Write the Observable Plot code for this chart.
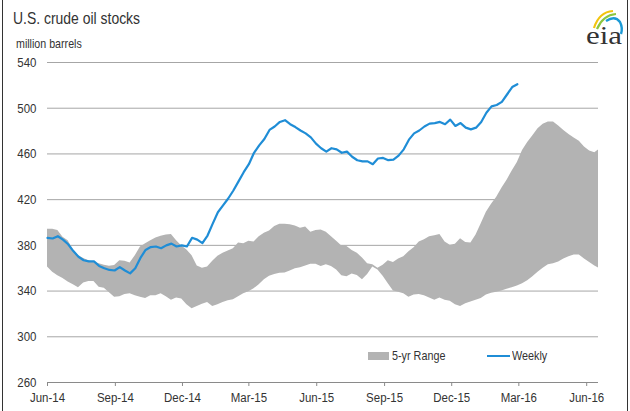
<!DOCTYPE html>
<html><head><meta charset="utf-8">
<script src="https://cdn.jsdelivr.net/npm/d3@7"></script>
<script src="https://cdn.jsdelivr.net/npm/@observablehq/plot@0.6"></script>
<style>
html,body{margin:0;padding:0;background:#fff;}
#wrap{position:relative;width:630px;height:411px;overflow:hidden;background:#fff;}
#chart{position:absolute;left:0;top:0;}
.narrow{font-family:'Liberation Sans',Arial,sans-serif;color:#333;transform-origin:0 50%;white-space:nowrap;}
#title{position:absolute;left:13px;top:9px;font-size:17px;transform:scaleX(0.82);}
#subtitle{position:absolute;left:16px;top:36px;font-size:13px;transform:scaleX(0.82);}
.lg-swatch{position:absolute;left:368px;top:352px;width:21px;height:8px;background:#b3b3b3;}
.lg-text1{position:absolute;left:392px;top:348px;font-size:13.5px;transform:scaleX(0.8);}
.lg-line{position:absolute;left:487px;top:355px;width:23px;height:2px;background:#1f8dd6;}
.lg-text2{position:absolute;left:512px;top:348px;font-size:13.5px;transform:scaleX(0.8);}
#border-l{position:absolute;left:2px;top:0;width:1px;height:411px;background:#333;}
#border-r{position:absolute;left:627px;top:0;width:1px;height:411px;background:#333;}
#logo{position:absolute;left:582px;top:4px;}
</style></head>
<body><div id="wrap">
<div id="chart"></div>
<div id="title" class="narrow">U.S. crude oil stocks</div>
<div id="subtitle" class="narrow">million barrels</div>
<div class="lg-swatch"></div><div class="lg-text1 narrow">5-yr Range</div>
<div class="lg-line"></div><div class="lg-text2 narrow">Weekly</div>
<svg id="logo" width="44" height="44" viewBox="0 0 44 44">
  <path d="M12 24 Q17 8 31 7" fill="none" stroke="#f2c40f" stroke-width="2.2"/>
  <path d="M15 25 Q21 11 34 10" fill="none" stroke="#8cc63f" stroke-width="2.2"/>
  <path d="M24 17 Q33 11 38 18 Q41 24 39 30" fill="none" stroke="#1b9ad6" stroke-width="2.4"/>
  <text x="4" y="40" font-family="'Liberation Serif','DejaVu Serif',serif" font-size="25" fill="#333" textLength="36" lengthAdjust="spacingAndGlyphs">eia</text>
</svg>
<div id="border-l"></div><div id="border-r"></div>
</div>
<script>
// Weekly U.S. crude oil stocks (million barrels), weekly from start date
const weeklyStart = "2014-06-01";
const weeklyValues = [
  386.6, 386, 388, 385, 381, 375, 370, 367, 366, 366,
  362, 360, 358.5, 358, 361, 358, 355.5, 360, 369, 376,
  378.5, 379, 377.5, 380, 381.5, 379, 380, 379, 386.6, 385,
  382, 388.6, 399, 409, 415, 421, 428, 436, 444, 451,
  461, 467.5, 473, 481, 484, 488, 489.5, 486, 483.5, 480.5,
  478, 474.5, 469, 465, 462, 465, 464, 461, 462, 457.5,
  454.5, 453.5, 453.5, 451, 456, 456.5, 454.5, 455, 458.5, 464,
  472.5, 478, 480.5, 484, 486.5, 487, 488, 486, 490, 484.5,
  487, 483, 481.5, 483, 488, 496, 501.6, 502.8, 505.5, 512,
  518.5, 521
];
// 5-year range (upper and lower bounds), weekly from same start date
const rangeHigh = [
  394, 394, 393, 387, 384, 376, 371, 368.5, 366.5, 365.3,
  364, 362.5, 361.7, 362.4, 366.5, 366, 364.5, 371, 378.5, 381.5,
  384, 386.5, 388, 389, 389.5, 384, 379.5, 376, 371, 362,
  360, 361, 366, 370.5, 373, 375, 377, 382, 381.5, 383.5,
  383, 387.5, 390.5, 392.5, 396.5, 398.5, 398.5, 398, 397, 395,
  396, 391.5, 393, 393.5, 391.5, 387.5, 383.5, 379.5, 379, 375.5,
  373, 369, 364, 363, 360, 362.5, 366.5, 365, 368, 370,
  374.5, 378, 383, 385, 387.5, 388.5, 389.5, 383, 380, 381,
  385.7, 382.5, 382, 389, 399, 409, 416, 422, 430, 437,
  445, 452.5, 463, 470, 476, 482, 486, 488, 488, 484.5,
  480.5, 477, 474, 471, 466, 462.5, 461, 464.5
];
const rangeLow = [
  361, 356.5, 353.5, 351, 348, 345.5, 343, 347, 348.4, 348.4,
  343.4, 342.5, 338.5, 334.5, 335, 337, 337.6, 336, 334.7, 333.5,
  336, 336, 337.6, 335, 332, 334, 333, 328, 324.6, 326.5,
  328.5, 330, 326.5, 328, 330, 331.5, 332.5, 335, 337.6, 339.5,
  342, 345.5, 350, 353, 354.5, 355.5, 355.8, 357.5, 359.5, 360.5,
  362, 363.5, 363.5, 361.5, 363, 361.5, 358.5, 353.5, 352.5, 355,
  353.6, 350, 354.5, 361, 358.5, 353, 346.5, 340, 339, 337.6,
  334.5, 336.5, 337, 336, 334, 332, 334, 332, 331, 328,
  326.5, 329, 330.5, 332, 333.5, 336.5, 338, 339, 340, 341.5,
  343, 344.5, 346.5, 349, 352.5, 356.5, 360, 363, 364, 365.5,
  368, 370, 371.5, 371.5, 368, 365, 362, 359.5
];
const yTicks = [260, 300, 340, 380, 420, 460, 500, 540];
const xTickDates = ["2014-06-01","2014-09-01","2014-12-01","2015-03-01","2015-06-01","2015-09-01","2015-12-01","2016-03-01","2016-06-01"];
const xTickLabels = ["Jun-14","Sep-14","Dec-14","Mar-15","Jun-15","Sep-15","Dec-15","Mar-16","Jun-16"];
const xDomain = ["2014-06-01", "2016-06-17"];

const DAY = 86400000;
const t0 = new Date(weeklyStart + "T00:00:00Z").getTime();
const weekDate = i => new Date(t0 + i * 7 * DAY);
const weekly = weeklyValues.map((v, i) => ({date: weekDate(i), value: v}));
const band = rangeHigh.map((h, i) => ({date: weekDate(i), hi: h, lo: rangeLow[i]}));
const tickDates = xTickDates.map(d => new Date(d + "T00:00:00Z"));
const labelByTime = new Map(tickDates.map((d, i) => [d.getTime(), xTickLabels[i]]));

const font = "'Liberation Sans',Arial,sans-serif";

const chart = Plot.plot({
  width: 630,
  height: 411,
  marginLeft: 47,
  marginRight: 32,
  marginTop: 62,
  marginBottom: 29,
  style: {fontFamily: font, fontSize: "13.5px", color: "#333", background: "transparent", overflow: "visible"},
  x: {type: "utc", domain: xDomain.map(d => new Date(d + "T00:00:00Z"))},
  y: {domain: [260, 540]},
  marks: [
    Plot.gridY(yTicks.filter(d => d !== 260), {stroke: "#a6a6a6", strokeOpacity: 1, strokeWidth: 1}),
    Plot.areaY(band, {x: "date", y1: "lo", y2: "hi", fill: "#b3b3b3", clip: true, curve: "linear"}),
    Plot.lineY(weekly, {x: "date", y: "value", stroke: "#1f8dd6", strokeWidth: 2.2, curve: "linear"}),
    Plot.ruleY([260], {stroke: "#8a8a8a", strokeWidth: 1.2}),
    Plot.axisY(yTicks, {tickSize: 0, tickPadding: 11, fontSize: 13.5, fill: "#333", label: null}),
    Plot.axisX(tickDates, {tickSize: 4, tickPadding: 6, stroke: "#8a8a8a", fill: "#333", fontSize: 13.5,
      tickFormat: d => labelByTime.get(d.getTime()), label: null})
  ]
});
// condense axis label glyphs horizontally (narrow typeface look)
chart.querySelectorAll('g[aria-label$="tick label"] text').forEach(t => {
  const tr = t.getAttribute("transform");
  if (tr) {
    t.setAttribute("transform", tr + " scale(0.85,1)");
  } else {
    const x = +t.getAttribute("x") || 0, y = +t.getAttribute("y") || 0;
    t.removeAttribute("x"); t.removeAttribute("y");
    t.setAttribute("transform", `translate(${x},${y}) scale(0.85,1)`);
  }
});
document.getElementById("chart").appendChild(chart);
</script>
</body></html>
